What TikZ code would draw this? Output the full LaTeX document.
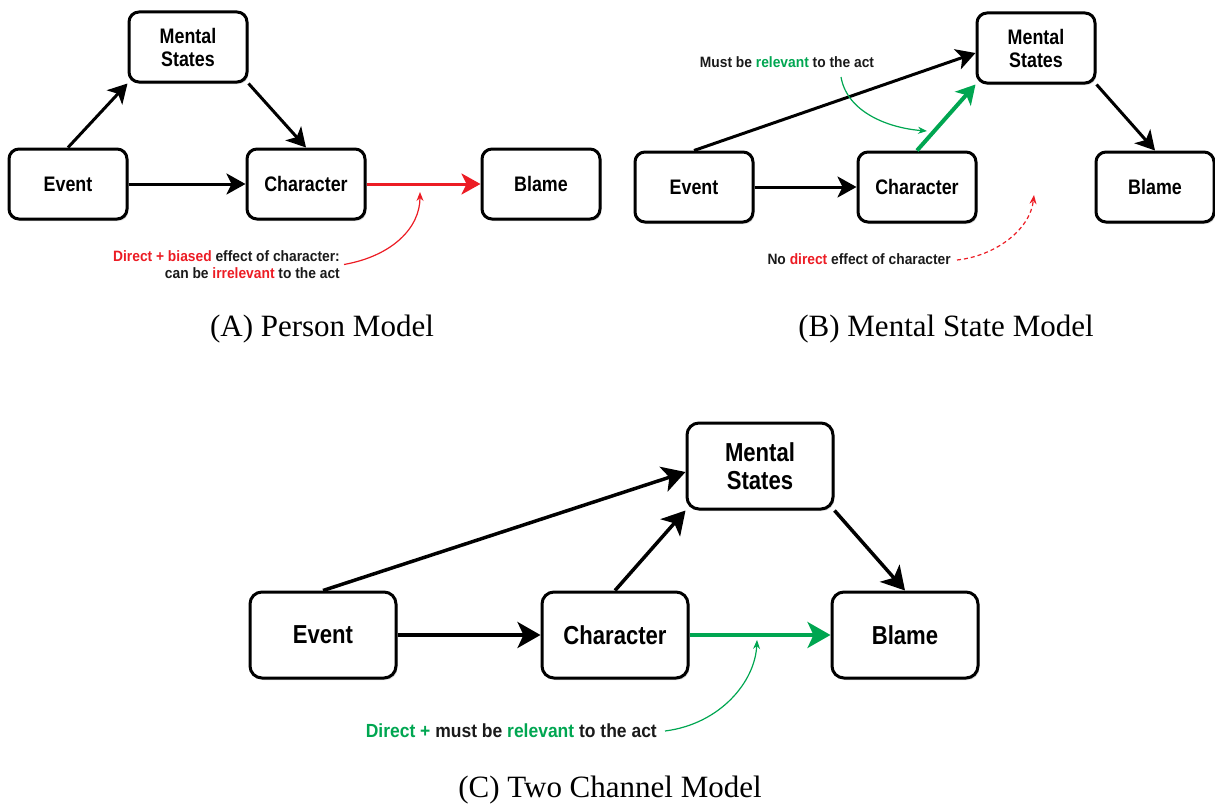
\documentclass[tikz,border=0pt]{standalone}
\usepackage{fontspec}
\setmainfont{Liberation Serif}
\newfontfamily\nf{Liberation Sans}[FakeStretch=0.85]
\newfontfamily\af{Liberation Sans}[FakeStretch=0.92]
\usetikzlibrary{arrows.meta,shadows,calc}
\definecolor{myred}{HTML}{EC1C24}
\definecolor{mygreen}{HTML}{00A651}
\definecolor{ink}{HTML}{1A1A1A}
\begin{document}
\begin{tikzpicture}[x=1pt,y=-1pt,
 box/.style={draw=black, line width=3pt, rounded corners=10pt, fill=white, minimum width=118pt, minimum height=70pt, align=center, inner sep=0pt, font=\nf\bfseries\fontsize{21}{23}\selectfont, drop shadow={shadow xshift=1.5pt, shadow yshift=-2pt, opacity=0.3}},
 bigbox/.style={box, minimum width=146pt, minimum height=86pt, rounded corners=12pt, font=\nf\bfseries\fontsize{26}{28}\selectfont},
 arr/.style={line width=3pt, -{Stealth[length=19pt,width=21pt,inset=5pt]}},
 bigarr/.style={line width=3.5pt, -{Stealth[length=23pt,width=26pt,inset=6pt]}},
 note/.style={font=\af\bfseries\fontsize{15}{17}\selectfont, text=ink, inner sep=0pt},
 bignote/.style={font=\af\bfseries\fontsize{19}{22}\selectfont, text=ink, inner sep=0pt},
 notearr/.style={line width=1.2pt, -{Stealth[length=9pt,width=7pt]}},
 capt/.style={font=\fontsize{31}{36}\selectfont, inner sep=0pt}
]
\useasboundingbox (0,0) rectangle (1215,808);

% ---------- Panel A ----------
\node[box] (msA) at (188,47) {Mental\\States};
\node[box] (evA) at (68,184) {Event};
\node[box] (chA) at (306,184) {Character};
\node[box] (blA) at (541,184) {Blame};
\draw[arr] (evA.north) -- (msA.south west);
\draw[arr] (msA.south east) -- (chA.north);
\draw[arr] (evA) -- (chA);
\draw[arr, myred] (chA) -- (blA);
\node[note, align=right, anchor=east] (annA) at (340,264.5)
  {\textcolor{myred}{Direct + biased} effect of character:\\can be \textcolor{myred}{irrelevant} to the act};
\coordinate (annAend) at (420,192);
\draw[notearr, myred] ($(annA.east)+(4,0)$) .. controls (392,256) and (420,228) .. (annAend);
\node[capt] (capA) at (322,329) {(A) Person Model};

% ---------- Panel B ----------
\node[box] (msB) at (1036,48) {Mental\\States};
\node[box] (evB) at (694,187) {Event};
\node[box] (chB) at (917,187) {Character};
\node[box] (blB) at (1155,187) {Blame};
\draw[arr] (evB.north) -- ($(msB.west)+(0,5)$);
\draw[line width=4pt, mygreen, -{Stealth[length=19pt,width=21pt,inset=5pt]}] (chB.north) -- (msB.south west);
\draw[arr] (msB.south east) -- (blB.north);
\draw[arr] (evB) -- (chB);
\node[note] (annB1) at (787,62) {Must be \textcolor{mygreen}{relevant} to the act};
\coordinate (annB1start) at (841,77);
\coordinate (annB1end) at (927,131);
\draw[notearr, mygreen] (annB1start) .. controls (847,112) and (888,128) .. (annB1end);
\node[note, anchor=east] (annB2) at (951,259) {No \textcolor{myred}{direct} effect of character};
\coordinate (annB2end) at (1034,195);
\draw[notearr, myred, dashed, dash pattern=on 4pt off 3pt] ($(annB2.east)+(6,1)$) .. controls (995,256) and (1030,230) .. (annB2end);
\node[capt] (capB) at (946,329) {(B) Mental State Model};

% ---------- Panel C ----------
\node[bigbox] (msC) at (760,466) {Mental\\States};
\node[bigbox] (evC) at (323,635) {Event};
\node[bigbox] (chC) at (615,635) {Character};
\node[bigbox] (blC) at (905,635) {Blame};
\draw[bigarr] (evC.north) -- ($(msC.west)+(0,6)$);
\draw[bigarr] (chC.north) -- (msC.south west);
\draw[bigarr] (msC.south east) -- (blC.north);
\draw[bigarr] (evC) -- (chC);
\draw[bigarr, mygreen] (chC) -- (blC);
\node[bignote, anchor=east] (annC) at (657,731) {\textcolor{mygreen}{Direct +} must be \textcolor{mygreen}{relevant} to the act};
\coordinate (annCend) at (757,640);
\draw[notearr, mygreen] ($(annC.east)+(8,0)$) .. controls (720,724) and (755,682) .. (annCend);
\node[capt] (capC) at (610,790) {(C) Two Channel Model};
\end{tikzpicture}
\end{document}
